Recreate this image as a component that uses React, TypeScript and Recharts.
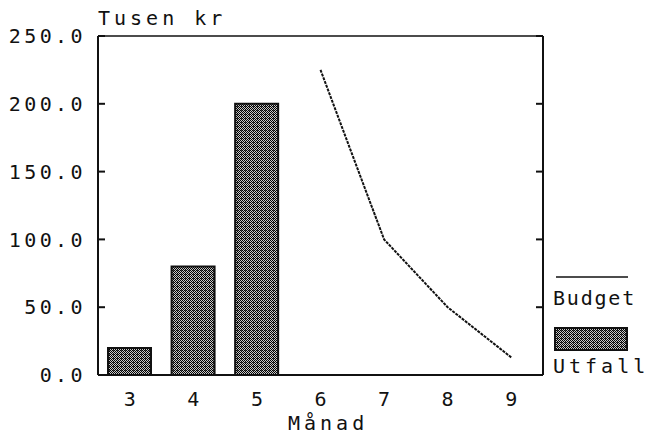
import { ComposedChart, Bar, Line, XAxis, YAxis } from "recharts";

const months = ["3", "4", "5", "6", "7", "8", "9"];
const utfall = [20, 80, 200, null, null, null, null];
const budget = [null, null, null, 225, 100, 50, 13];
const yTicks = [0, 50, 100, 150, 200, 250];

const data = months.map((m, i) => ({ month: m, utfall: utfall[i], budget: budget[i] }));

const font = "'DejaVu Sans Mono', monospace";
const ink = "#111";

const LeftTick = (props: any) => {
  const { x, y, payload } = props;
  return (
    <g>
      <line x1={x} x2={x + 7} y1={y} y2={y} stroke={ink} strokeWidth={2} />
      <text
        x={x - 12}
        y={y}
        dy="0.36em"
        textAnchor="end"
        fontFamily={font}
        fontSize={20}
        letterSpacing={3.4}
        fill={ink}
      >
        {Number(payload.value).toFixed(1)}
      </text>
    </g>
  );
};

const RightTick = (props: any) => {
  const { x, y } = props;
  return <line x1={x - 7} x2={x} y1={y} y2={y} stroke={ink} strokeWidth={2} />;
};

export default function App() {
  return (
    <div style={{ position: "absolute", left: 0, top: 0, width: 650, height: 435, background: "#fff" }}>
      <ComposedChart
        width={650}
        height={435}
        data={data}
        margin={{ top: 35, right: 106, bottom: 0, left: 8 }}
      >
        <XAxis
          dataKey="month"
          height={60}
          tickLine={false}
          tickSize={0}
          tickMargin={17}
          axisLine={{ stroke: ink, strokeWidth: 2 }}
          tick={{ fill: ink, fontFamily: font, fontSize: 20 }}
        />
        <XAxis
          xAxisId="top"
          dataKey="month"
          orientation="top"
          height={1}
          tick={false}
          tickLine={false}
          axisLine={{ stroke: ink, strokeWidth: 1.5 }}
        />
        <YAxis
          width={90}
          domain={[0, 250]}
          ticks={yTicks}
          tickLine={false}
          tickSize={0}
          tickMargin={0}
          axisLine={{ stroke: ink, strokeWidth: 2 }}
          tick={<LeftTick />}
        />
        <YAxis
          yAxisId="r"
          orientation="right"
          width={1}
          domain={[0, 250]}
          ticks={yTicks}
          tickLine={false}
          tickSize={0}
          tickMargin={0}
          axisLine={{ stroke: ink, strokeWidth: 2 }}
          tick={<RightTick />}
        />
        <Bar
          dataKey="utfall"
          barSize={43}
          fill="url(#stipple)"
          stroke={ink}
          strokeWidth={2}
          isAnimationActive={false}
        />
        <Line
          dataKey="budget"
          xAxisId="top"
          yAxisId="r"
          type="linear"
          stroke={ink}
          strokeWidth={2}
          strokeDasharray="3 1"
          dot={false}
          activeDot={false}
          isAnimationActive={false}
        />
      </ComposedChart>
      <svg
        width={650}
        height={435}
        style={{ position: "absolute", left: 0, top: 0, pointerEvents: "none" }}
      >
        <defs>
          <pattern id="stipple" width={4} height={4} patternUnits="userSpaceOnUse">
            <rect width={4} height={4} fill="#c8c8c8" />
            <rect x={0} y={0} width={1} height={1} fill="#000" />
            <rect x={2} y={0} width={1} height={1} fill="#000" />
            <rect x={1} y={1} width={1} height={1} fill="#000" />
            <rect x={3} y={1} width={1} height={1} fill="#000" />
            <rect x={0} y={2} width={1} height={1} fill="#000" />
            <rect x={2} y={2} width={1} height={1} fill="#000" />
            <rect x={1} y={3} width={1} height={1} fill="#000" />
            <rect x={3} y={3} width={1} height={1} fill="#000" />
            <rect x={1} y={2} width={1} height={1} fill="#444" />
          </pattern>
        </defs>
        <g fontFamily={font} fontSize={20} fill={ink}>
          <text x={98} y={25} letterSpacing={4}>Tusen kr</text>
          <text x={288} y={430} letterSpacing={4}>Månad</text>
          <text x={553} y={305} letterSpacing={1.8}>Budget</text>
          <text x={553} y={373} letterSpacing={4}>Utfall</text>
        </g>
        <line x1={556} x2={628} y1={277} y2={277} stroke={ink} strokeWidth={1.5} />
        <rect x={555} y={328} width={72} height={22} fill="url(#stipple)" stroke={ink} strokeWidth={2} />
      </svg>
    </div>
  );
}
